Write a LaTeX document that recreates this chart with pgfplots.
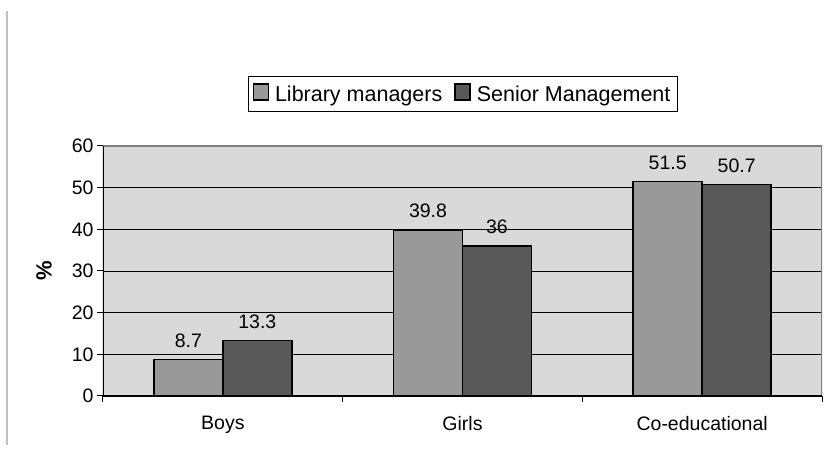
\documentclass[border=0pt]{standalone}
\usepackage{fontspec}
\setmainfont{Liberation Sans}
\usepackage{pgfplots}
\pgfplotsset{compat=1.18}

\definecolor{plotbg}{HTML}{D9D9D9}
\definecolor{barlight}{HTML}{999999}
\definecolor{bardark}{HTML}{595959}
\definecolor{framegray}{HTML}{808080}
\definecolor{sideline}{HTML}{C0C0C0}

\begin{document}
\begin{tikzpicture}[font=\fontsize{19.5}{23}\selectfont]
\path[use as bounding box] (0,0) rectangle (833pt,454pt);
% thin grey rule at the far left
\draw[sideline, line width=2pt] (7pt,9pt) -- (7pt,443pt);
\begin{axis}[
    at={(103pt,58pt)}, anchor=south west,
    scale only axis, width=719pt, height=250pt,
    /pgf/number format/assume math mode=true,
    ybar=0pt, bar width=69pt,
    xmin=-0.5, xmax=2.5, ymin=0, ymax=60,
    ytick={0,10,...,60},
    xtick={-0.5,0.5,1.5,2.5}, xticklabels={},
    extra x ticks={0,1,2},
    extra x tick labels={Boys,Girls,Co-educational},
    extra x tick style={major tick length=0pt,
        tick label style={yshift=-17pt}},
    tick align=outside, tick pos=left,
    major tick length=6pt,
    tick style={black, line width=1pt},
    ymajorgrids, major grid style={black, line width=0.9pt},
    axis background/.style={fill=plotbg},
    axis line style={draw=none},
    ylabel={\%},
    ylabel style={at={(axis description cs:-0.082,0.5)}, anchor=center,
        font=\fontsize{22}{26}\selectfont\bfseries},
    nodes near coords,
    every node near coord/.append style={black, yshift=8pt},
    legend columns=2,
    legend style={at={(axis description cs:0.5,1.208)}, anchor=center,
        draw=black, line width=0.8pt, fill=white,
        inner xsep=4.5pt, inner ysep=7pt,
        font=\fontsize{21.5}{25}\selectfont,
        /tikz/every odd column/.append style={column sep=4pt},
        /tikz/every even column/.append style={column sep=10pt}},
    legend image code/.code={\draw[#1, draw=black, line width=1.5pt] (0pt,-6pt) rectangle (15pt,10pt);},
]
\addplot[fill=barlight, draw=black, line width=1.5pt] coordinates {(0,8.7) (1,39.8) (2,51.5)};
\addlegendentry{Library managers}
\addplot[fill=bardark, draw=black, line width=1.5pt] coordinates {(0,13.3) (1,36) (2,50.7)};
\addlegendentry{Senior Management}
\draw[framegray, line width=1.5pt] (rel axis cs:0,1) -- (rel axis cs:1,1) -- (rel axis cs:1,0);
\draw[black, line width=1.2pt] (rel axis cs:0,1) -- (rel axis cs:0,0) -- (rel axis cs:1,0);
\end{axis}
\end{tikzpicture}
\end{document}
